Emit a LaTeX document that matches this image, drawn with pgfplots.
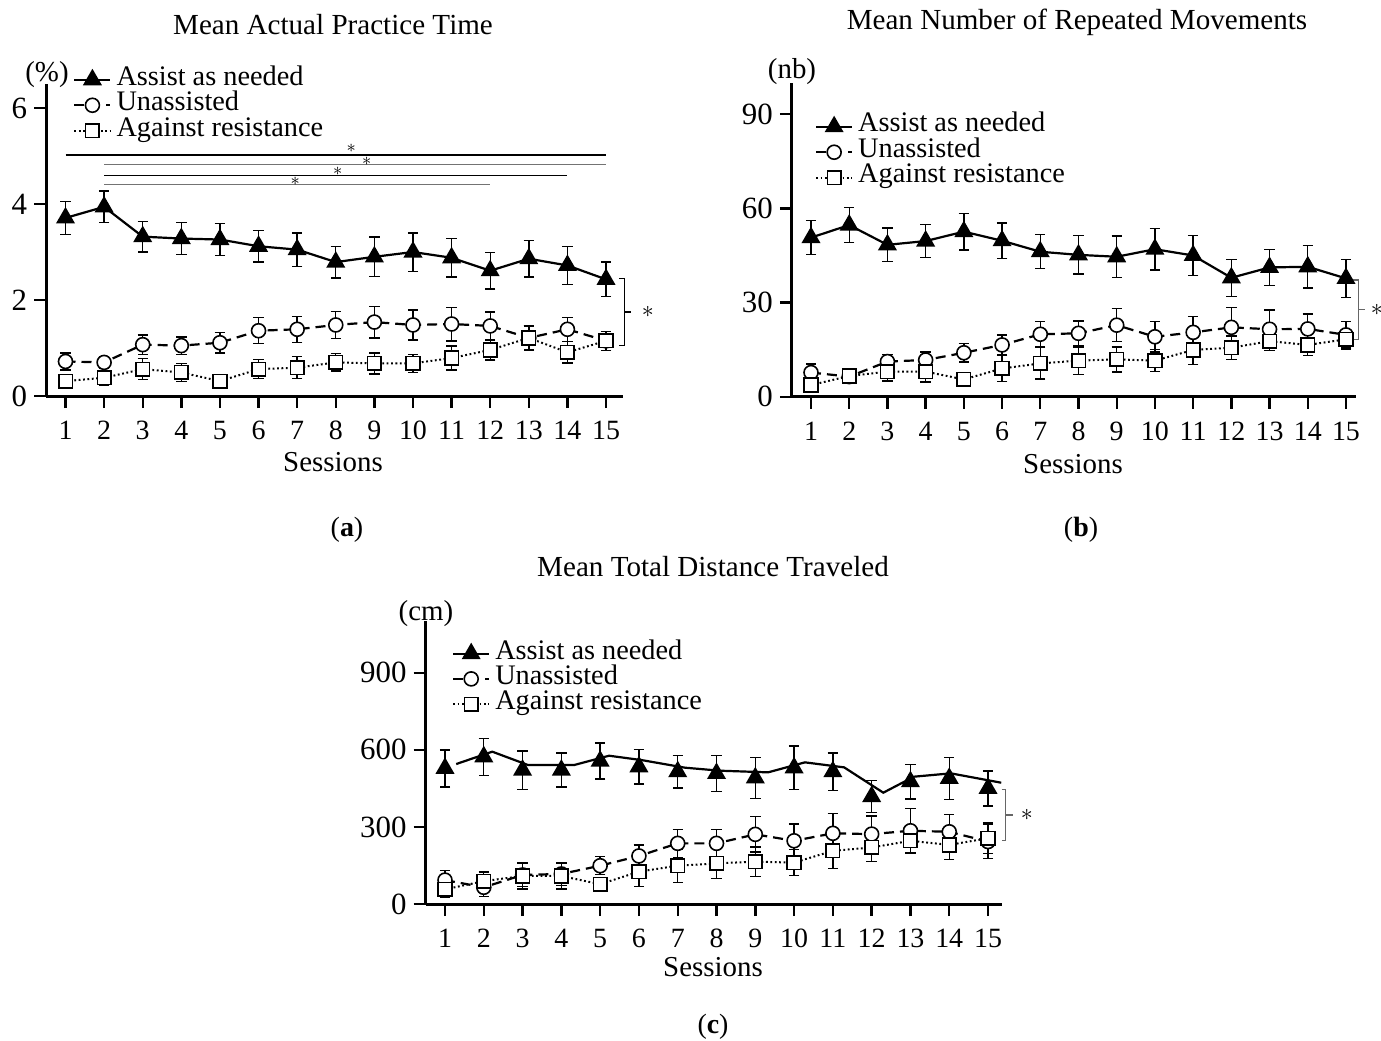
\documentclass[border=0pt]{standalone}
\usepackage{pgfplots}
\pgfplotsset{compat=1.18}
\usepackage{fontspec}
\setmainfont{Liberation Serif}
\newcommand\fs[1]{\fontsize{#1}{#1}\selectfont}
\pgfplotsset{
  legend image code/.code={\draw[mark repeat=2,mark phase=2,#1] plot coordinates {(0bp,0bp) (9bp,0bp) (18bp,0bp)};},
  myaxis/.style={
    scale only axis, clip=false,
    axis lines=left,
    axis line style={line width=1.5bp, -},
    tick align=outside,
    major tick length=6bp,
    every tick/.style={line width=1.2bp, black},
    xtick={1,...,15},
    /pgf/number format/assume math mode=true,
    xticklabel style={font=\fs{14}},
    yticklabel style={font=\fs{15.5}},
    xticklabel shift=3bp,
    legend cell align=left,
  },
  assist/.style={black, line width=1.1bp, mark=triangle*, mark size=4.4bp, mark options={solid, fill=black, draw=black}},
  unass/.style={black, line width=1.1bp, dash pattern=on 5bp off 3bp, mark=*, mark size=3.5bp, mark options={solid, fill=white, draw=black, line width=0.8bp}},
  against/.style={black, line width=1bp, dash pattern=on 0.9bp off 1.3bp, mark=square*, mark size=3.4bp, mark options={solid, fill=white, draw=black, line width=0.8bp}},
  ebar/.style={/pgfplots/error bars/y dir=both, /pgfplots/error bars/y explicit,
    /pgfplots/error bars/error bar style={line width=0.7bp, solid, black},
    /pgfplots/error bars/error mark options={rotate=90, mark size=2.6bp, line width=0.7bp, solid, black}},
  leg/.style={legend style={at={#1}, anchor=north west, draw=none, fill=none, inner sep=0pt, outer sep=0pt, row sep=0pt, column sep=1.5bp, font=\fs{14.2}, nodes={inner ysep=0pt, inner xsep=1bp, text height=9bp, text depth=3.75bp}}},
}
\begin{document}
\begin{tikzpicture}
\useasboundingbox (0,0) rectangle (690.5bp,-520.5bp);

% ---------------- (a) ----------------
\begin{axis}[myaxis, at={(23.1bp,-198bp)}, anchor=south west,
  width=288.6bp, height=156bp, xmin=0.5, xmax=15.45, ymin=0, ymax=6.5,
  ytick={0,2,4,6}, leg={(0.047,1.0545)}]
\addlegendimage{assist}\addlegendentry{Assist as needed}
\addlegendimage{unass}\addlegendentry{Unassisted}
\addlegendimage{against}\addlegendentry{Against resistance}
\addplot[assist, forget plot, ebar] coordinates {
(1,3.71) +- (0,0.34) (2,3.94) +- (0,0.33) (3,3.32) +- (0,0.32) (4,3.28) +- (0,0.33) (5,3.26) +- (0,0.33)
(6,3.12) +- (0,0.33) (7,3.05) +- (0,0.35) (8,2.79) +- (0,0.33) (9,2.90) +- (0,0.41) (10,3.00) +- (0,0.40)
(11,2.88) +- (0,0.40) (12,2.61) +- (0,0.38) (13,2.86) +- (0,0.38) (14,2.72) +- (0,0.40) (15,2.43) +- (0,0.36)};
\addplot[unass, forget plot, ebar] coordinates {
(1,0.72) +- (0,0.18) (2,0.70) +- (0,0.12) (3,1.07) +- (0,0.20) (4,1.05) +- (0,0.18) (5,1.11) +- (0,0.21)
(6,1.36) +- (0,0.27) (7,1.39) +- (0,0.27) (8,1.48) +- (0,0.28) (9,1.54) +- (0,0.33) (10,1.48) +- (0,0.31)
(11,1.50) +- (0,0.35) (12,1.46) +- (0,0.29) (13,1.21) +- (0,0.25) (14,1.39) +- (0,0.25) (15,1.15) +- (0,0.20)};
\addplot[against, forget plot, ebar] coordinates {
(1,0.31) +- (0,0.05) (2,0.38) +- (0,0.15) (3,0.56) +- (0,0.22) (4,0.49) +- (0,0.19) (5,0.31) +- (0,0.05)
(6,0.56) +- (0,0.20) (7,0.59) +- (0,0.23) (8,0.70) +- (0,0.18) (9,0.68) +- (0,0.22) (10,0.68) +- (0,0.19)
(11,0.79) +- (0,0.25) (12,0.96) +- (0,0.21) (13,1.21) +- (0,0.25) (14,0.91) +- (0,0.22) (15,1.15) +- (0,0.20)};
% significance lines
\draw[line width=0.6bp, black] (axis cs:1,5.02) -- (axis cs:15,5.02);
\draw[line width=0.6bp, black!55] (axis cs:2,4.82) -- (axis cs:15,4.82);
\draw[line width=0.6bp, black] (axis cs:2,4.60) -- (axis cs:14,4.60);
\draw[line width=0.6bp, black!55] (axis cs:2,4.41) -- (axis cs:12,4.41);
\node[font=\fs{9}, inner sep=0pt] at (axis cs:8.4,5.15) {$\ast$};
\node[font=\fs{9}, inner sep=0pt] at (axis cs:8.8,4.88) {$\ast$};
\node[font=\fs{9}, inner sep=0pt] at (axis cs:8.05,4.68) {$\ast$};
\node[font=\fs{9}, inner sep=0pt] at (axis cs:6.95,4.48) {$\ast$};
% bracket
\draw[line width=0.6bp] (axis cs:15.34,2.44) -- (axis cs:15.47,2.44) -- (axis cs:15.47,1.06) -- (axis cs:15.34,1.06);
\draw[line width=0.6bp] (axis cs:15.47,1.75) -- (axis cs:15.65,1.75);
\node[font=\fs{13}, inner sep=0pt] at (axis cs:16.08,1.75) {$\ast$};
\end{axis}

% ---------------- (b) ----------------
\begin{axis}[myaxis, at={(395.95bp,-198.35bp)}, anchor=south west,
  width=282.2bp, height=156.9bp, xmin=0.5, xmax=15.27, ymin=0, ymax=100,
  ytick={0,30,60,90}, leg={(0.041,0.901)}]
\addlegendimage{assist}\addlegendentry{Assist as needed}
\addlegendimage{unass}\addlegendentry{Unassisted}
\addlegendimage{against}\addlegendentry{Against resistance}
\addplot[assist, forget plot, ebar] coordinates {
(1,50.7) +- (0,5.4) (2,54.7) +- (0,5.5) (3,48.4) +- (0,5.3) (4,49.6) +- (0,5.2) (5,52.6) +- (0,5.8)
(6,49.7) +- (0,5.7) (7,46.2) +- (0,5.4) (8,45.2) +- (0,6.1) (9,44.6) +- (0,6.6) (10,47.0) +- (0,6.6)
(11,45.0) +- (0,6.3) (12,37.9) +- (0,5.9) (13,41.2) +- (0,5.7) (14,41.4) +- (0,6.7) (15,37.7) +- (0,6.0)};
\addplot[unass, forget plot, ebar] coordinates {
(1,7.7) +- (0,2.7) (2,6.4) +- (0,1.5) (3,11.2) +- (0,2.3) (4,11.7) +- (0,2.6) (5,14.0) +- (0,3.0)
(6,16.5) +- (0,3.2) (7,19.9) +- (0,4.0) (8,20.2) +- (0,3.9) (9,22.8) +- (0,5.3) (10,19.1) +- (0,4.8)
(11,20.5) +- (0,5.0) (12,22.1) +- (0,6.3) (13,21.5) +- (0,6.1) (14,21.6) +- (0,4.8) (15,19.7) +- (0,4.2)};
\addplot[against, forget plot, ebar] coordinates {
(1,3.7) +- (0,2.0) (2,6.6) +- (0,1.5) (3,8.0) +- (0,3.0) (4,8.0) +- (0,3.3) (5,5.5) +- (0,1.5)
(6,9.0) +- (0,4.2) (7,10.6) +- (0,5.0) (8,11.5) +- (0,4.4) (9,11.9) +- (0,4.0) (10,11.5) +- (0,3.5)
(11,14.9) +- (0,4.6) (12,15.6) +- (0,3.7) (13,17.7) +- (0,3.0) (14,16.5) +- (0,3.3) (15,18.3) +- (0,3.2)};
\draw[line width=0.6bp, black!60] (axis cs:15.19,37.2) -- (axis cs:15.32,37.2) -- (axis cs:15.32,18.3) -- (axis cs:15.19,18.3);
\draw[line width=0.6bp, black!60] (axis cs:15.32,27.7) -- (axis cs:15.5,27.7);
\node[font=\fs{13}, inner sep=0pt] at (axis cs:15.81,27.6) {$\ast$};
\end{axis}

% ---------------- (c) ----------------
\begin{axis}[myaxis, at={(212.8bp,-452bp)}, anchor=south west,
  width=288bp, height=141.35bp, xmin=0.5, xmax=15.35, ymin=0, ymax=1100,
  ytick={0,300,600,900},
  legend style={at={(0.046,0.93)}, anchor=north west, draw=none, fill=none, inner sep=0pt, outer sep=0pt, row sep=0pt, column sep=1.5bp, font=\fs{14.2}, nodes={inner ysep=0pt, inner xsep=1bp, text height=9bp, text depth=3.6bp}}]
\addlegendimage{assist}\addlegendentry{Assist as needed}
\addlegendimage{unass}\addlegendentry{Unassisted}
\addlegendimage{against}\addlegendentry{Against resistance}
\addplot[black, line width=1.1bp, forget plot] coordinates {
(1.29,544.7) (2.22,592.7) (3.14,540.8) (4.33,540.8) (5.23,577) (6.07,560) (7.19,530.4) (8.09,518.7)
(9.33,512.3) (10.28,551.2) (11.29,531.7) (12.3,433.2) (13.09,495.4) (14.04,508.4) (15.34,472)};
\addplot[assist, only marks, forget plot, ebar] coordinates {
(1,528) +- (0,72) (2,573) +- (0,72) (3,521) +- (0,75) (4,521) +- (0,66) (5,556) +- (0,70)
(6,534) +- (0,67) (7,515) +- (0,64) (8,508) +- (0,70) (9,491) +- (0,80) (10,530) +- (0,85)
(11,515) +- (0,73) (12,418) +- (0,63) (13,476) +- (0,67) (14,489) +- (0,82) (15,450) +- (0,68)};
\addplot[unass, forget plot, ebar] coordinates {
(1,93) +- (0,37) (2,65) +- (0,35) (3,113) +- (0,45) (4,117) +- (0,45) (5,149) +- (0,35)
(6,187) +- (0,43) (7,236) +- (0,54) (8,236) +- (0,54) (9,271) +- (0,69) (10,246) +- (0,65)
(11,275) +- (0,78) (12,272) +- (0,70) (13,285) +- (0,87) (14,281) +- (0,68) (15,243) +- (0,67)};
\addplot[against, forget plot, ebar] coordinates {
(1,57) +- (0,30) (2,89) +- (0,36) (3,109) +- (0,50) (4,109) +- (0,50) (5,77) +- (0,15)
(6,126) +- (0,58) (7,149) +- (0,65) (8,158) +- (0,58) (9,165) +- (0,57) (10,161) +- (0,50)
(11,207) +- (0,68) (12,220) +- (0,55) (13,246) +- (0,50) (14,230) +- (0,57) (15,256) +- (0,60)};
\draw[line width=0.6bp, black!60] (axis cs:15.35,446) -- (axis cs:15.455,446) -- (axis cs:15.455,246) -- (axis cs:15.35,246);
\draw[line width=0.6bp, black!60] (axis cs:15.455,346) -- (axis cs:15.65,346);
\node[font=\fs{13}, inner sep=0pt] at (axis cs:16.0,346) {$\ast$};
\end{axis}

% ---------------- text ----------------
\node[font=\fs{14.6}] at (166.5bp,-12.5bp) {Mean Actual Practice Time};
\node[font=\fs{14.6}] at (538.5bp,-11bp) {Mean Number of Repeated Movements};
\node[font=\fs{14.6}] at (356.5bp,-283.5bp) {Mean Total Distance Traveled};
\node[font=\fs{14.5}] at (166.5bp,-231bp) {Sessions};
\node[font=\fs{14.5}] at (536.5bp,-232bp) {Sessions};
\node[font=\fs{14.5}] at (356.5bp,-483.5bp) {Sessions};
\node[font=\fs{14}] at (173.5bp,-265bp) {(\textbf{a})};
\node[font=\fs{14}] at (540.5bp,-265bp) {(\textbf{b})};
\node[font=\fs{14}] at (356.5bp,-513.5bp) {(\textbf{c})};
\node[font=\fs{14.5}] at (23.5bp,-37.5bp) {(\%)};
\node[font=\fs{14.5}] at (396bp,-36bp) {(nb)};
\node[font=\fs{14.5}] at (213bp,-307bp) {(cm)};
\end{tikzpicture}
\end{document}
